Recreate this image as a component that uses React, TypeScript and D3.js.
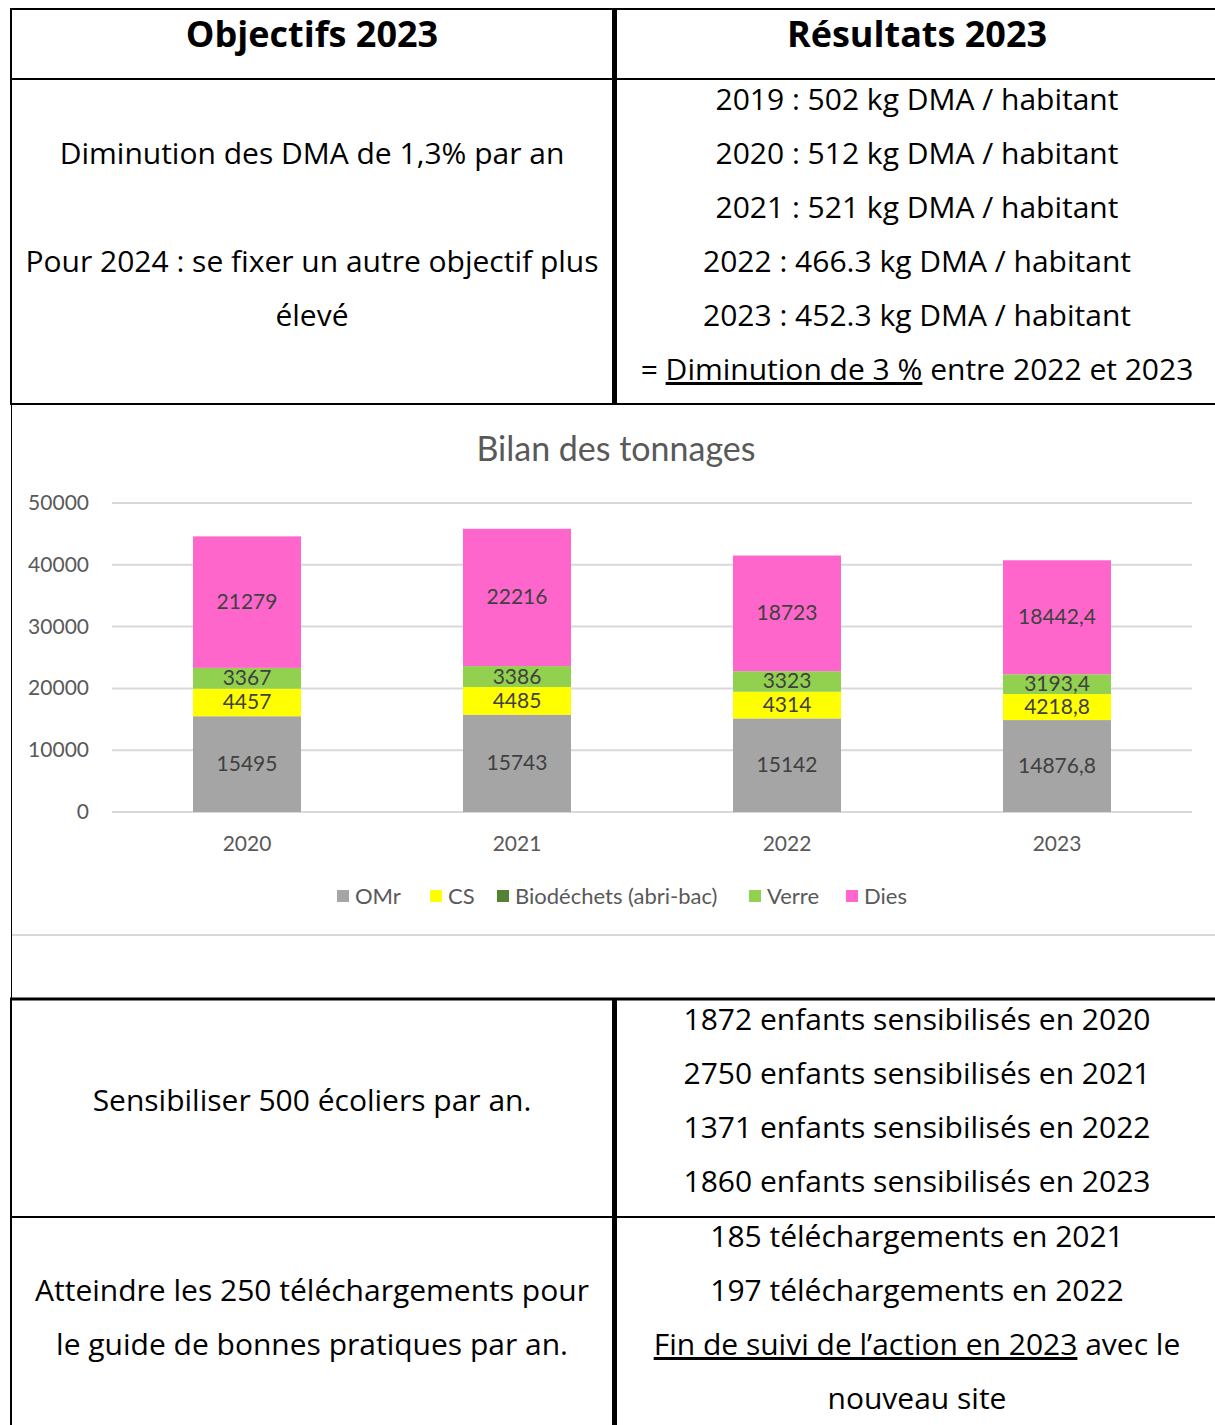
import * as d3 from "d3";

// chart data
const years = ["2020", "2021", "2022", "2023"];
const omr = [15495, 15743, 15142, 14876.8];
const cs = [4457, 4485, 4314, 4218.8];
const bio = [0, 0, 0, 0];
const verre = [3367, 3386, 3323, 3193.4];
const dies = [21279, 22216, 18723, 18442.4];
const seriesNames = ["OMr", "CS", "Biodéchets (abri-bac)", "Verre", "Dies"];
const seriesColors = ["#a5a5a5", "#ffff00", "#548235", "#92d050", "#ff66cc"];
const yTicks = [0, 10000, 20000, 30000, 40000, 50000];

// table text
const dmaLines = [
    "2019 : 502 kg DMA / habitant",
    "2020 : 512 kg DMA / habitant",
    "2021 : 521 kg DMA / habitant",
    "2022 : 466.3 kg DMA / habitant",
    "2023 : 452.3 kg DMA / habitant",
];
const enfantsLines = [
    "1872 enfants sensibilisés en 2020",
    "2750 enfants sensibilisés en 2021",
    "1371 enfants sensibilisés en 2022",
    "1860 enfants sensibilisés en 2023",
];
const telechLines = ["185 téléchargements en 2021", "197 téléchargements en 2022"];

const W = 1215;
const H = 1425;
const tableFont = "'Open Sans', 'DejaVu Sans', sans-serif";
const chartFont = "Lato, 'Noto Sans', sans-serif";
const leftX = 312;
const rightX = 917;

const fmt = (v: number) => String(v).replace(".", ",");

const Chart = () => {
    const x = d3.scaleBand().domain(years).range([112, 1192]).paddingInner(0.6).paddingOuter(0.3);
    const y = d3.scaleLinear().domain([0, 50000]).range([812, 503]);
    const allSeries = [omr, cs, bio, verre, dies];
    const rows = years.map((yr, i) => {
        const r: any = { year: yr };
        seriesNames.forEach((n, k) => (r[n] = allSeries[k][i]));
        return r;
    });
    const stacked = d3.stack().keys(seriesNames)(rows);

    // legend positions
    const legendX = [337, 430, 497, 749, 846];

    return (
        <g fontFamily={chartFont}>
            <text x={616} y={461} textAnchor="middle" fontSize={34} fill="#595959">
                Bilan des tonnages
            </text>
            {yTicks.map((t) => (
                <g key={t}>
                    <line x1={112} x2={1192} y1={y(t)} y2={y(t)} stroke="#d9d9d9" strokeWidth={2} />
                    <text x={89} y={y(t) + 7} textAnchor="end" fontSize={21} fill="#595959">
                        {t}
                    </text>
                </g>
            ))}
            {stacked.map((s, k) => (
                <g key={s.key}>
                    {s.map((d, i) => {
                        const h = y(d[0]) - y(d[1]);
                        if (h <= 0) return null;
                        return (
                            <g key={i}>
                                <rect
                                    x={x(years[i])}
                                    y={y(d[1])}
                                    width={x.bandwidth()}
                                    height={h}
                                    fill={seriesColors[k]}
                                />
                                <text
                                    x={(x(years[i]) as number) + x.bandwidth() / 2}
                                    y={(y(d[0]) + y(d[1])) / 2 + 7}
                                    textAnchor="middle"
                                    fontSize={21}
                                    fill="#404040"
                                >
                                    {fmt(allSeries[k][i])}
                                </text>
                            </g>
                        );
                    })}
                </g>
            ))}
            {years.map((yr) => (
                <text
                    key={yr}
                    x={(x(yr) as number) + x.bandwidth() / 2}
                    y={851}
                    textAnchor="middle"
                    fontSize={21}
                    fill="#595959"
                >
                    {yr}
                </text>
            ))}
            {seriesNames.map((n, k) => (
                <g key={n}>
                    <rect x={legendX[k]} y={890} width={12} height={12} fill={seriesColors[k]} />
                    <text x={legendX[k] + 18} y={904} fontSize={22} fill="#595959">
                        {n}
                    </text>
                </g>
            ))}
        </g>
    );
};

const CellText = ({ x, y, children }: any) => (
    <text x={x} y={y} textAnchor="middle" fontSize={30} fill="#000">
        {children}
    </text>
);

export default function App() {
    return (
        <div style={{ position: "absolute", left: 0, top: 0 }}>
            <svg width={W} height={H} style={{ display: "block", background: "#fff" }}>
                <rect x={0} y={0} width={W} height={H} fill="#fff" />
                <g fontFamily={tableFont}>
                    {/* borders */}
                    <line x1={10} x2={W} y1={9} y2={9} stroke="#000" strokeWidth={2} />
                    <line x1={10} x2={W} y1={79} y2={79} stroke="#000" strokeWidth={2} />
                    <line x1={10} x2={W} y1={404} y2={404} stroke="#000" strokeWidth={2} />
                    <line x1={11} x2={W} y1={935} y2={935} stroke="#d9d9d9" strokeWidth={2} />
                    <line x1={10} x2={W} y1={999} y2={999} stroke="#000" strokeWidth={3} />
                    <line x1={10} x2={W} y1={1217} y2={1217} stroke="#000" strokeWidth={2} />
                    <line x1={11} x2={11} y1={8} y2={405} stroke="#000" strokeWidth={2} />
                    <line x1={11.5} x2={11.5} y1={405} y2={1000} stroke="#000" strokeWidth={1} />
                    <line x1={11} x2={11} y1={998} y2={H} stroke="#000" strokeWidth={2} />
                    <line x1={614.5} x2={614.5} y1={8} y2={405} stroke="#000" strokeWidth={5} />
                    <line x1={614.5} x2={614.5} y1={998} y2={H} stroke="#000" strokeWidth={5} />

                    {/* headers */}
                    <text x={leftX} y={47} textAnchor="middle" fontSize={36} fontWeight="bold">
                        Objectifs 2023
                    </text>
                    <text x={rightX} y={47} textAnchor="middle" fontSize={36} fontWeight="bold">
                        Résultats 2023
                    </text>

                    {/* row DMA */}
                    <CellText x={leftX} y={164}>Diminution des DMA de 1,3% par an</CellText>
                    <CellText x={leftX} y={272}>Pour 2024 : se fixer un autre objectif plus</CellText>
                    <CellText x={leftX} y={326}>élevé</CellText>
                    {dmaLines.map((l, i) => (
                        <CellText key={l} x={rightX} y={110 + i * 54}>
                            {l}
                        </CellText>
                    ))}
                    <CellText x={rightX} y={380}>
                        {"= "}
                        <tspan textDecoration="underline">Diminution de 3 %</tspan>
                        {" entre 2022 et 2023"}
                    </CellText>

                    {/* row enfants */}
                    <CellText x={leftX} y={1111}>Sensibiliser 500 écoliers par an.</CellText>
                    {enfantsLines.map((l, i) => (
                        <CellText key={l} x={rightX} y={1030 + i * 54}>
                            {l}
                        </CellText>
                    ))}

                    {/* row telechargements */}
                    <CellText x={leftX} y={1301}>Atteindre les 250 téléchargements pour</CellText>
                    <CellText x={leftX} y={1355}>le guide de bonnes pratiques par an.</CellText>
                    {telechLines.map((l, i) => (
                        <CellText key={l} x={rightX} y={1247 + i * 54}>
                            {l}
                        </CellText>
                    ))}
                    <CellText x={rightX} y={1355}>
                        <tspan textDecoration="underline">Fin de suivi de l’action en 2023</tspan>
                        {" avec le"}
                    </CellText>
                    <CellText x={rightX} y={1409}>nouveau site</CellText>
                </g>
                <Chart />
            </svg>
        </div>
    );
}
